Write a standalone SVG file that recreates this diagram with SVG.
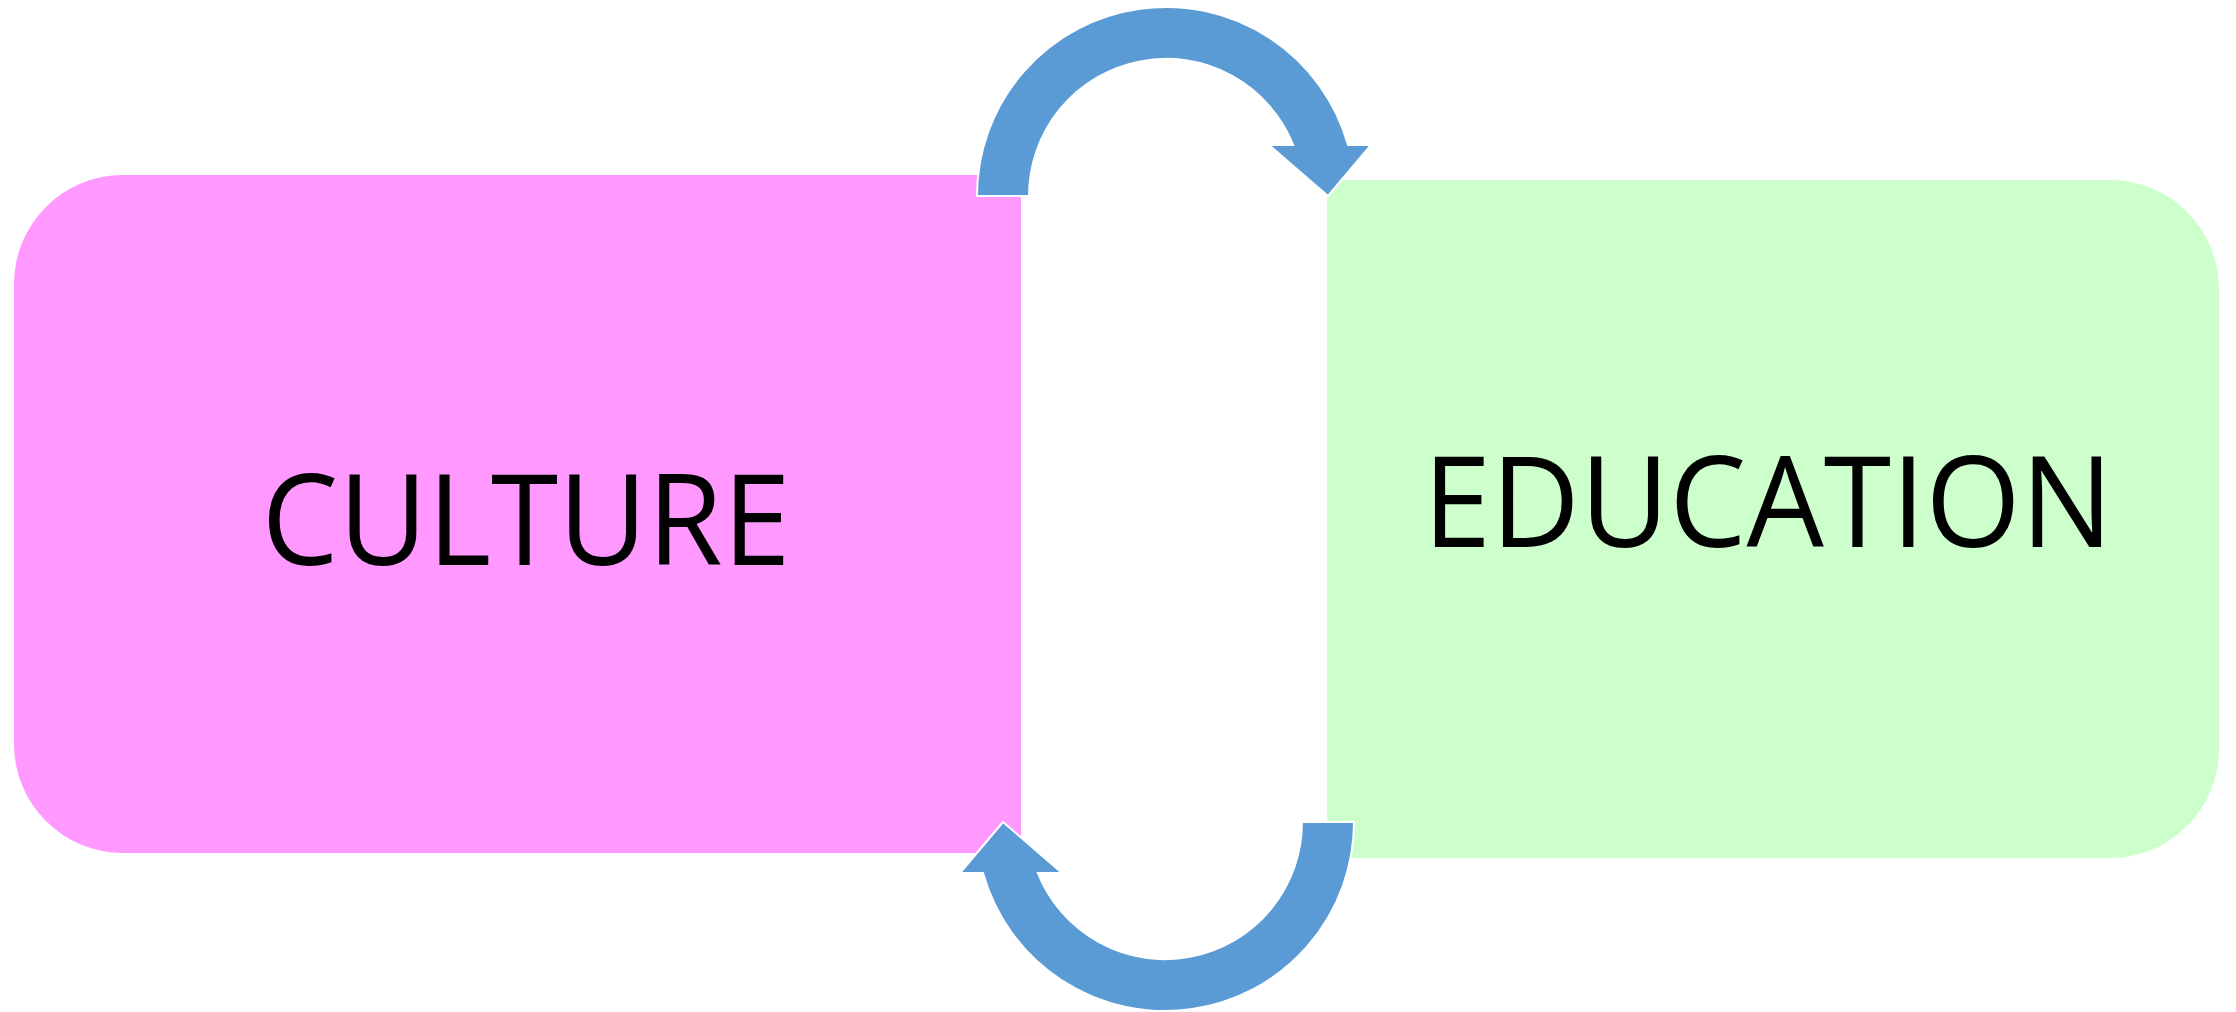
<svg xmlns="http://www.w3.org/2000/svg" width="2236" height="1012" viewBox="0 0 2236 1012">
  <defs>
    <style>
      .label { font-family: "Open Sans", "Lato", "Liberation Sans", sans-serif; font-size: 126px; fill: #000000; text-anchor: middle; }
      .arrow { fill: #5B9BD5; stroke: #FFFFFF; stroke-width: 2; stroke-linejoin: miter; }
    </style>
    <path id="cycleArrow" d="M 977 196 A 189 189 0 0 1 1348 145 L 1371 145 L 1328 196 L 1269 145 L 1293.2 145 A 137 137 0 0 0 1029 196 Z"/>
  </defs>
  <rect width="2236" height="1012" fill="#FFFFFF"/>
  <g id="node-culture">
    <path d="M 123 175 H 1021 V 853 H 123 A 109 109 0 0 1 14 744 V 284 A 109 109 0 0 1 123 175 Z" fill="#FF99FF"/>
    <text class="label" x="526" y="565" textLength="529" lengthAdjust="spacingAndGlyphs">CULTURE</text>
  </g>
  <g id="node-education">
    <path d="M 1327 180 H 2110 A 109 109 0 0 1 2219 289 V 749 A 109 109 0 0 1 2110 858 H 1327 Z" fill="#CCFFCC"/>
    <text class="label" x="1768" y="547" textLength="690" lengthAdjust="spacingAndGlyphs">EDUCATION</text>
  </g>
  <g id="connectors">
    <use id="arrow-culture-to-education" href="#cycleArrow" class="arrow"/>
    <use id="arrow-education-to-culture" href="#cycleArrow" class="arrow" transform="rotate(180 1165.5 509)"/>
  </g>
</svg>
